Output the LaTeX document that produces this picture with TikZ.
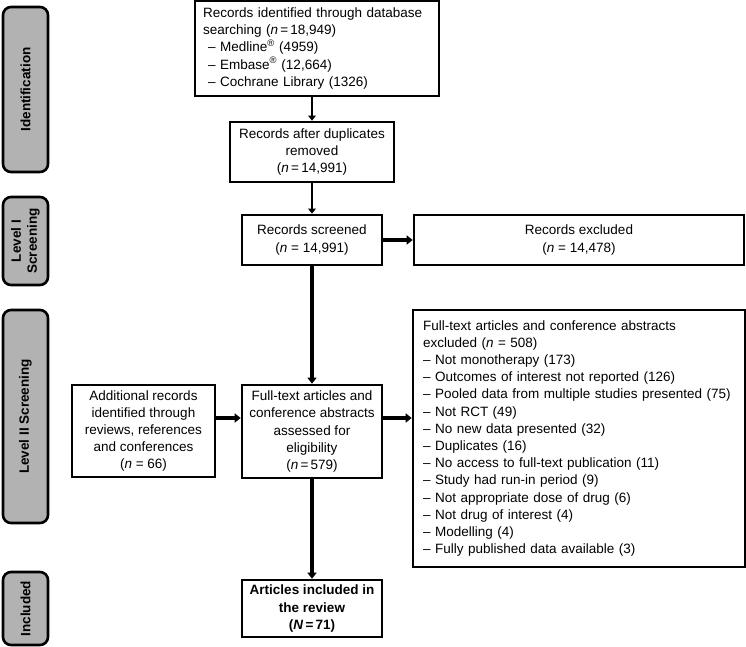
\documentclass[tikz,border=0pt]{standalone}
\usepackage{fontspec}
\setmainfont{Liberation Sans}
\usetikzlibrary{arrows.meta}
\definecolor{phasegray}{RGB}{178,178,178}

\begin{document}
\begin{tikzpicture}[x=1pt,y=-1pt,
    box/.style={draw,line width=2.6pt,inner sep=0pt,align=center,
      font=\fontsize{13.5}{17.2}\selectfont},
    listbox/.style={box,align=left,inner xsep=#1pt},
    phase/.style={draw,line width=2.6pt,fill=phasegray,rounded corners=8pt,rotate=90,
      minimum height=45pt,inner sep=0pt,align=center,
      font=\fontsize{13.5}{16}\selectfont\bfseries},
    flow/.style={line width=2.6pt,-{Triangle[length=5pt,width=7.5pt]}},
    mainflow/.style={line width=4pt,-{Triangle[length=6pt,width=9pt]}}]

          \useasboundingbox (0,0) rectangle (746,646);

          % phase labels on the left
          \foreach \yc/\len/\txt [count=\i] in {89.5/165/Identification,
              241/88/{Level I\\Screening},416.5/213/Level II Screening,608.5/73/Included}{
            \node[phase,minimum width=\len pt] (phase\i) at (25.5,\yc) {\txt};
          }

          \node[listbox=8,text width=228pt,minimum height=95pt] (search) at (317,48.5)
            {Records identified through database\\
             searching (\textit{n}\,=\,18,949)\\
             \hspace{5pt}– Medline\textsuperscript{®} (4959)\\
             \hspace{5pt}– Embase\textsuperscript{®} (12,664)\\
             \hspace{5pt}– Cochrane Library (1326)};

          \node[box,minimum width=164pt,minimum height=60pt] (dupl) at (312,152)
            {Records after duplicates\\removed\\(\textit{n}\,=\,14,991)};

          \node[box,minimum width=140pt,minimum height=50pt] (screen) at (312,240)
            {Records screened\\(\textit{n} = 14,991)};
          \node[box,minimum width=330pt,minimum height=50pt] (exclA) at (579,240)
            {Records excluded\\(\textit{n} = 14,478)};

          \node[box,minimum width=143pt,minimum height=92pt] (addl) at (143.5,431)
            {Additional records\\identified through\\reviews, references\\and conferences\\(\textit{n} = 66)};
          \node[box,minimum width=140pt,minimum height=93pt] (assess) at (312,431.5)
            {Full-text articles and\\conference abstracts\\assessed for\\eligibility\\(\textit{n}\,=\,579)};

          \node[listbox=10,text width=312pt,minimum height=257pt] (exclB) at (579,438.5)
            {Full-text articles and conference abstracts\\
             excluded (\textit{n} = 508)\\
             – Not monotherapy (173)\\
             – Outcomes of interest not reported (126)\\
             – Pooled data from multiple studies presented (75)\\
             – Not RCT (49)\\
             – No new data presented (32)\\
             – Duplicates (16)\\
             – No access to full-text publication (11)\\
             – Study had run-in period (9)\\
             – Not appropriate dose of drug (6)\\
             – Not drug of interest (4)\\
             – Modelling (4)\\
             – Fully published data available (3)};

          \node[box,minimum width=140pt,minimum height=57pt,font=\fontsize{13.5}{17.2}\selectfont\bfseries]
            (incl) at (312,608.5)
            {Articles included in\\the review\\(\textit{N}\,=\,71)};

          % arrows
          \coordinate (side) at (0,418);
          \draw[flow] (search.south -| dupl.north) -- (dupl.north);
          \draw[flow] (dupl) -- (screen);
          \draw[mainflow] (screen) -- (exclA);
          \draw[mainflow] (screen) -- (assess);
          \draw[mainflow] (addl.east |- side) -- (assess.west |- side);
          \draw[mainflow] (assess.east |- side) -- (exclB.west |- side);
          \draw[mainflow] (assess) -- (incl);
        \end{tikzpicture}
\end{document}
